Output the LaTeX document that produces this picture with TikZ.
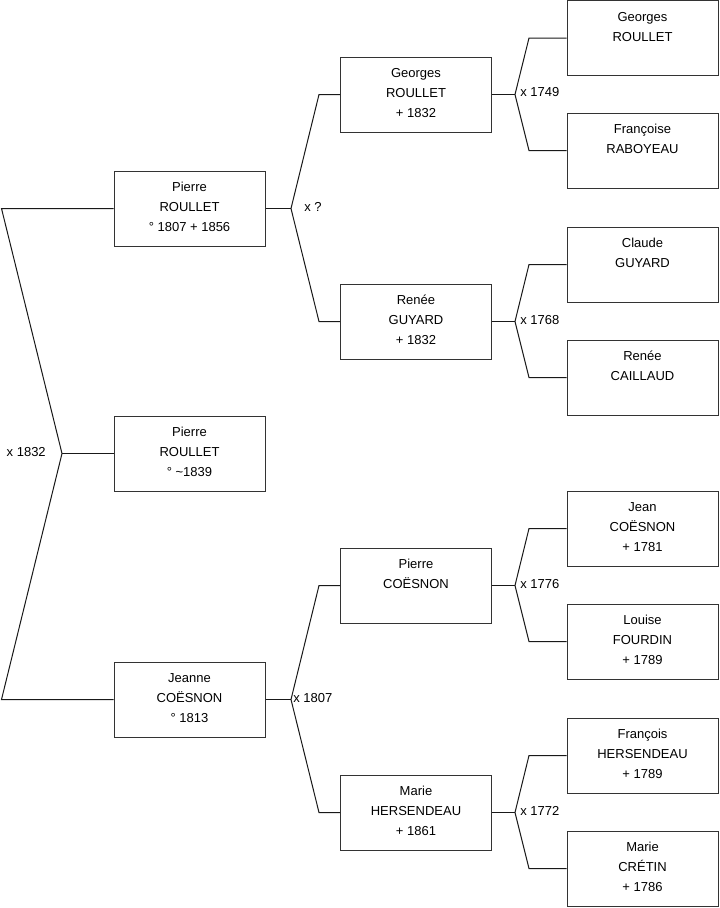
\documentclass[tikz,border=0pt]{standalone}
\usepackage{fontspec}
\setmainfont{Liberation Sans}
\newcommand{\dpfix}{\rule[-2pt]{0pt}{0pt}}
\begin{document}
\begin{tikzpicture}[x=0.75pt,y=-0.75pt,
  box/.style={draw=black!80,line width=0.75pt,rectangle,inner sep=0pt,
    minimum width=113.25pt,minimum height=56.25pt,align=center,
    font=\fontsize{9.75}{15}\selectfont},
  conn/.style={draw=black!90,line width=0.75pt,line join=miter},
  lab/.style={inner sep=0pt,font=\fontsize{9.75}{15}\selectfont}]
\useasboundingbox (0,0) rectangle (719,908);
% level 1
\node[box] (p1) at (189.5,208.5) {Pierre\\ROULLET\\° 1807 + 1856\dpfix};
\node[box] (p2) at (189.5,453.5) {Pierre\\ROULLET\\° \textasciitilde1839\dpfix};
\node[box] (p3) at (189.5,699.5) {Jeanne\\COËSNON\\° 1813\dpfix};
% level 2
\node[box] (g1) at (416,94.5) {Georges\\ROULLET\\+ 1832\dpfix};
\node[box] (g2) at (416,321.5) {Renée\\GUYARD\\+ 1832\dpfix};
\node[box] (g3) at (416,585.5) {Pierre\\COËSNON\\\dpfix};
\node[box] (g4) at (416,812.5) {Marie\\HERSENDEAU\\+ 1861\dpfix};
% level 3
\node[box] (h1) at (642.5,38) {Georges\\ROULLET\\\dpfix};
\node[box] (h2) at (642.5,150.5) {Françoise\\RABOYEAU\\\dpfix};
\node[box] (h3) at (642.5,264.5) {Claude\\GUYARD\\\dpfix};
\node[box] (h4) at (642.5,377.5) {Renée\\CAILLAUD\\\dpfix};
\node[box] (h5) at (642.5,528.5) {Jean\\COËSNON\\+ 1781\dpfix};
\node[box] (h6) at (642.5,641.5) {Louise\\FOURDIN\\+ 1789\dpfix};
\node[box] (h7) at (642.5,755.5) {François\\HERSENDEAU\\+ 1789\dpfix};
\node[box] (h8) at (642.5,868.5) {Marie\\CRÉTIN\\+ 1786\dpfix};
% fork coordinates
\coordinate (a0) at (1.5,208.5);
\coordinate (a1) at (62,453.5);
\coordinate (a2) at (1.5,699.5);
\coordinate (f1) at (291,208.5);
\coordinate (f1u) at (319,94.5);
\coordinate (f1d) at (319,321.5);
\coordinate (f3) at (291,699.5);
\coordinate (f3u) at (319,585.5);
\coordinate (f3d) at (319,812.5);
\coordinate (k1) at (515,94.5);
\coordinate (k1u) at (529,38);
\coordinate (k1d) at (529,150.5);
\coordinate (k2) at (515,321.5);
\coordinate (k2u) at (529,264.5);
\coordinate (k2d) at (529,377.5);
\coordinate (k3) at (515,585.5);
\coordinate (k3u) at (529,528.5);
\coordinate (k3d) at (529,641.5);
\coordinate (k4) at (515,812.5);
\coordinate (k4u) at (529,755.5);
\coordinate (k4d) at (529,868.5);
% connectors
\draw[conn] (p1.west) -- (a0) -- (a1) -- (a2) -- (p3.west);
\draw[conn] (a1) -- (p2.west);
\draw[conn] (p1.east) -- (f1);
\draw[conn] (g1.west) -- (f1u) -- (f1) -- (f1d) -- (g2.west);
\draw[conn] (p3.east) -- (f3);
\draw[conn] (g3.west) -- (f3u) -- (f3) -- (f3d) -- (g4.west);
\draw[conn] (g1.east) -- (k1);
\draw[conn] (h1.west) -- (k1u) -- (k1) -- (k1d) -- (h2.west);
\draw[conn] (g2.east) -- (k2);
\draw[conn] (h3.west) -- (k2u) -- (k2) -- (k2d) -- (h4.west);
\draw[conn] (g3.east) -- (k3);
\draw[conn] (h5.west) -- (k3u) -- (k3) -- (k3d) -- (h6.west);
\draw[conn] (g4.east) -- (k4);
\draw[conn] (h7.west) -- (k4u) -- (k4) -- (k4d) -- (h8.west);
% labels
\node[lab,anchor=east] (m0) at (46,452) {x 1832};
\node[lab,anchor=west] (m1) at (304,207) {x ?};
\node[lab,anchor=west] (m3) at (293,698) {x 1807};
\node[lab,anchor=west] (n1) at (520,92) {x 1749};
\node[lab,anchor=west] (n2) at (520,320) {x 1768};
\node[lab,anchor=west] (n3) at (520,584) {x 1776};
\node[lab,anchor=west] (n4) at (520,811) {x 1772};
\end{tikzpicture}
\end{document}
